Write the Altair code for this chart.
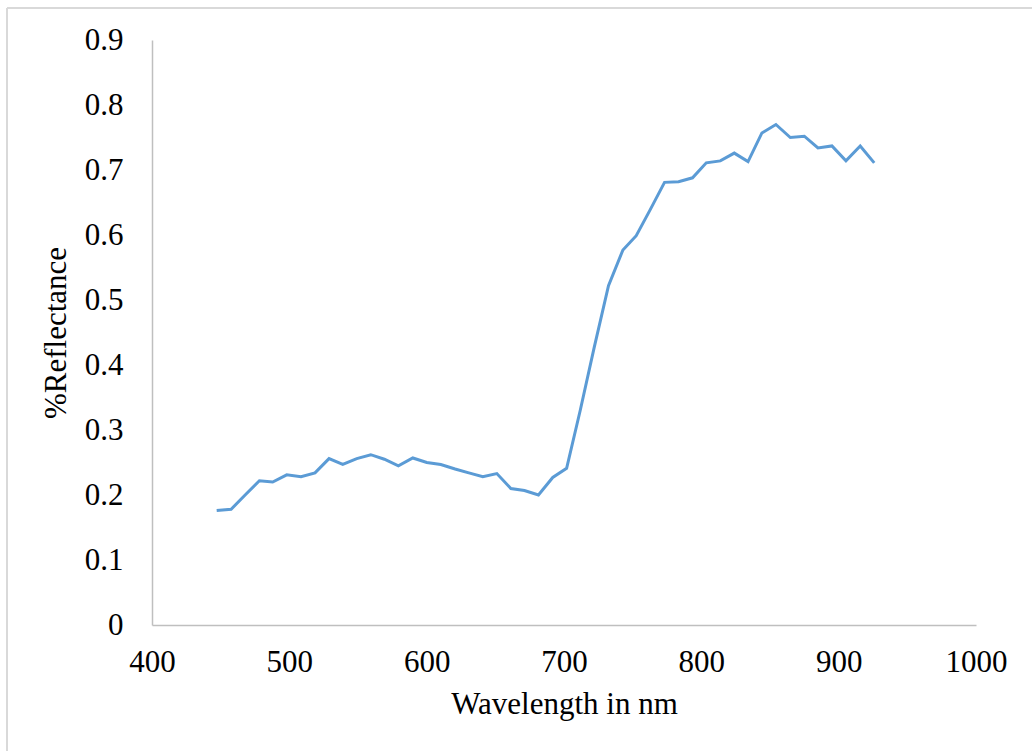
import altair as alt
import pandas as pd

# Reflectance spectrum samples
wavelength_nm = [
    447.1, 457.6, 467.8, 478.2, 487.9, 498.1, 508.5, 518.7, 528.9, 538.9,
    549.1, 559.3, 569.2, 579.4, 589.9, 600.1, 610.3, 620.7, 630.7, 640.9,
    651.1, 661.3, 671.2, 681.4, 691.8, 701.9, 711.8, 722.0, 732.4, 742.9,
    752.6, 762.8, 773.2, 783.4, 793.6, 803.6, 813.8, 824.0, 834.0, 844.1,
    854.3, 864.8, 875.0, 884.9, 895.1, 905.3, 915.7, 925.9,
]
reflectance = [
    0.176, 0.178, 0.200, 0.222, 0.220, 0.231, 0.228, 0.234, 0.256, 0.247,
    0.256, 0.262, 0.255, 0.245, 0.257, 0.250, 0.247, 0.240, 0.234, 0.228,
    0.233, 0.210, 0.207, 0.200, 0.227, 0.241, 0.330, 0.427, 0.522, 0.577,
    0.599, 0.639, 0.681, 0.682, 0.688, 0.711, 0.714, 0.726, 0.713, 0.757,
    0.770, 0.750, 0.752, 0.734, 0.737, 0.714, 0.737, 0.711,
]
x_ticks = [400, 500, 600, 700, 800, 900, 1000]
y_ticks = [0, 0.1, 0.2, 0.3, 0.4, 0.5, 0.6, 0.7, 0.8, 0.9]

df = pd.DataFrame({"wavelength": wavelength_nm, "reflectance": reflectance})

FONT = "Liberation Serif"
AXIS_GREY = "#BFBFBF"

line = alt.Chart(df).mark_line(color="#5B9BD5", strokeWidth=3).encode(
    x=alt.X(
        "wavelength:Q",
        scale=alt.Scale(domain=[400, 1000], nice=False, zero=False),
        axis=alt.Axis(
            values=x_ticks,
            format="d",
            title="Wavelength in nm",
            titlePadding=12,
            labelPadding=22,
        ),
    ),
    y=alt.Y(
        "reflectance:Q",
        scale=alt.Scale(domain=[0, 0.9], nice=False),
        axis=alt.Axis(
            values=y_ticks,
            format="~g",
            title="%Reflectance",
            titlePadding=12,
            labelPadding=29,
        ),
    ),
)

# Outer frame edges (top and left)
frame_top = alt.Chart(df).mark_rule(color="#D9D9D9", strokeWidth=1.5).encode(
    x=alt.value(-145), x2=alt.value(900), y=alt.value(-32)
)
frame_left = alt.Chart(df).mark_rule(color="#D9D9D9", strokeWidth=1.5).encode(
    x=alt.value(-145), y=alt.value(-32), y2=alt.value(720)
)

chart = (
    alt.layer(line, frame_top, frame_left)
    .properties(
        width=824,
        height=585,
        autosize=alt.AutoSizeParams(type="none"),
        padding={"left": 152, "top": 40, "right": 56, "bottom": 126},
        background="white",
    )
    .configure_view(stroke=None)
    .configure_axis(
        labelFont=FONT,
        labelFontSize=31,
        labelColor="black",
        labelFlush=False,
        titleFont=FONT,
        titleFontSize=31,
        titleFontWeight="normal",
        titleColor="black",
        ticks=False,
        grid=False,
        domainColor=AXIS_GREY,
        domainWidth=1.5,
        labelOverlap=False,
    )
)

chart.save("out.html", embed_options={"renderer": "svg", "actions": False})
